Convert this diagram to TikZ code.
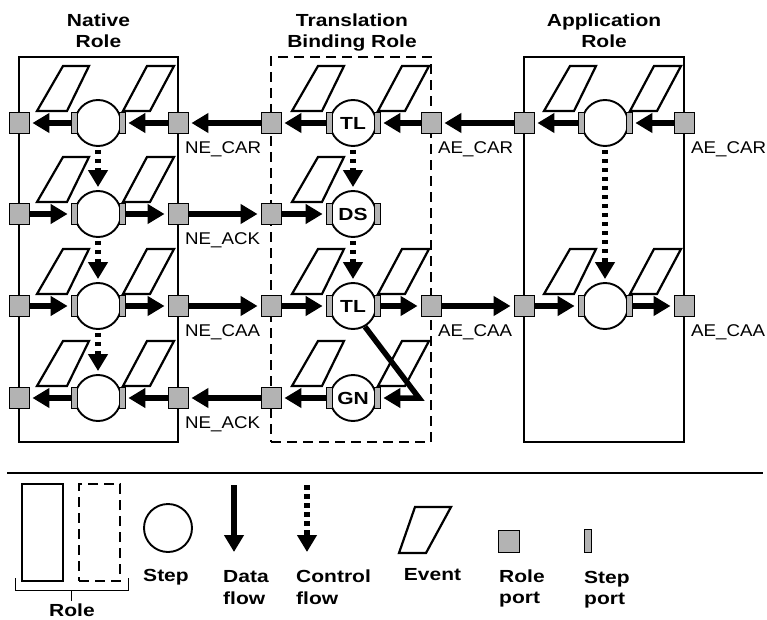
\documentclass[tikz,border=0pt]{standalone}
\usepackage{fontspec}
\setmainfont{Liberation Sans}
\newfontfamily\lbfont[FakeStretch=1.1]{Liberation Sans}
\newfontfamily\bdfont[FakeStretch=1.2]{Liberation Sans}
\usetikzlibrary{arrows.meta}
\definecolor{portgray}{RGB}{179,179,179}
\tikzset{
 stepc/.style={circle, draw, line width=1.9pt, minimum size=46pt, inner sep=0pt, fill=white, font=\bdfont\bfseries\fontsize{17.5}{20}\selectfont},
 sport/.style={rectangle, draw, fill=portgray, line width=0.9pt, minimum width=6pt, minimum height=21pt, inner sep=0pt},
 rport/.style={rectangle, draw, fill=portgray, line width=0.9pt, minimum width=20pt, minimum height=21pt, inner sep=0pt},
 event/.style={draw, line width=2.2pt, fill=white, line join=miter},
 dataflow/.style={line width=5.5pt, -{Triangle[length=17pt,width=19pt]}, shorten >=3pt},
 ctrlflow/.style={line width=5.5pt, dash pattern=on 4.5pt off 4.5pt, -{Triangle[length=17pt,width=19pt]}, shorten >=3pt, shorten <=3pt},
 rolebox/.style={draw, line width=2.2pt, inner sep=0pt},
 dashbox/.style={rolebox, dash pattern=on 10pt off 6pt},
 lab/.style={font=\lbfont\fontsize{17}{20}\selectfont, inner sep=0pt, anchor=west},
 ttl/.style={font=\bdfont\bfseries\fontsize{17.5}{20}\selectfont, inner sep=0pt, anchor=base},
 ttlw/.style={ttl, anchor=base west},
}
\newcommand{\stp}[4]{\node[stepc] (#1) at (#2,#3) {#4};
  \node[sport] (#1-l) at (#1.west) {};
  \node[sport] (#1-r) at (#1.east) {};}
\newcommand{\evl}[2]{\draw[event] ({#1-61},{#2-12}) -- ++(30,0) -- ++(22,-45) -- ++(-26,0) -- cycle;}
\newcommand{\evr}[2]{\draw[event] ({#1+25},{#2-12}) -- ++(27,0) -- ++(24,-45) -- ++(-27,0) -- cycle;}
\begin{document}
\begin{tikzpicture}[x=1pt,y=-1pt]
\useasboundingbox (0,0) rectangle (767,620);
% titles
\node[ttl] at (98.5,27) {Native};
\node[ttl] at (98.5,48) {Role};
\node[ttl] at (352,27) {Translation};
\node[ttl] at (352,48) {Binding Role};
\node[ttl] at (604,27) {Application};
\node[ttl] at (604,48) {Role};
% role boxes
\node[rolebox, minimum width=159pt, minimum height=385pt] (native) at (98.5,249.5) {};
\node[dashbox, minimum width=160pt, minimum height=385pt] (tbr) at (351,249.5) {};
\node[rolebox, minimum width=160pt, minimum height=385pt] (app) at (604,249.5) {};
% events
\foreach \yy in {123,214,306,398} {\evl{98}{\yy}\evr{98}{\yy}}
\evl{353}{123}\evr{353}{123}
\evl{353}{214}
\evl{353}{306}\evr{353}{306}
\evl{353}{398}\evr{353}{398}
\evl{605}{123}\evr{605}{123}
\evl{605}{306}\evr{605}{306}
% steps
\stp{n1}{98}{123}{}
\stp{n2}{98}{214}{}
\stp{n3}{98}{306}{}
\stp{n4}{98}{398}{}
\stp{t1}{353}{123}{TL}
\stp{t2}{353}{214}{DS}
\stp{t3}{353}{306}{TL}
\stp{t4}{353}{398}{GN}
\stp{a1}{605}{123}{}
\stp{a3}{605}{306}{}
% role ports
\node[rport] (n1L) at (19,123) {};
\node[rport] (n1R) at (178,123) {};
\node[rport] (n2L) at (19,214) {};
\node[rport] (n2R) at (178,214) {};
\node[rport] (n3L) at (19,306) {};
\node[rport] (n3R) at (178,306) {};
\node[rport] (n4L) at (19,398) {};
\node[rport] (n4R) at (178,398) {};
\node[rport] (t1L) at (271,123) {};
\node[rport] (t1R) at (431,123) {};
\node[rport] (t2L) at (271,214) {};
\node[rport] (t3L) at (271,306) {};
\node[rport] (t3R) at (431,306) {};
\node[rport] (t4L) at (271,398) {};
\node[rport] (a1L) at (524,123) {};
\node[rport] (a1R) at (684,123) {};
\node[rport] (a3L) at (524,306) {};
\node[rport] (a3R) at (684,306) {};
% data flows inside native
\draw[dataflow] (n1R.west) -- (n1-r.east);
\draw[dataflow] (n1-l.west) -- (n1L.east);
\draw[dataflow] (n2L.east) -- (n2-l.west);
\draw[dataflow] (n2-r.east) -- (n2R.west);
\draw[dataflow] (n3L.east) -- (n3-l.west);
\draw[dataflow] (n3-r.east) -- (n3R.west);
\draw[dataflow] (n4R.west) -- (n4-r.east);
\draw[dataflow] (n4-l.west) -- (n4L.east);
% data flows inside TBR
\draw[dataflow] (t1R.west) -- (t1-r.east);
\draw[dataflow] (t1-l.west) -- (t1L.east);
\draw[dataflow] (t2L.east) -- (t2-l.west);
\draw[dataflow] (t3L.east) -- (t3-l.west);
\draw[dataflow] (t3-r.east) -- (t3R.west);
\draw[dataflow] (t4-l.west) -- (t4L.east);
\coordinate (bend) at (419,398);
\draw[dataflow, line join=miter] (t3.-60) -- (bend) -- (t4-r.east);
% data flows inside app
\draw[dataflow] (a1R.west) -- (a1-r.east);
\draw[dataflow] (a1-l.west) -- (a1L.east);
\draw[dataflow] (a3L.east) -- (a3-l.west);
\draw[dataflow] (a3-r.east) -- (a3R.west);
% between roles
\draw[dataflow] (t1L.west) -- (n1R.east);
\draw[dataflow] (a1L.west) -- (t1R.east);
\draw[dataflow] (n2R.east) -- (t2L.west);
\draw[dataflow] (n3R.east) -- (t3L.west);
\draw[dataflow] (t3R.east) -- (a3L.west);
\draw[dataflow] (t4L.west) -- (n4R.east);
% control flows
\draw[ctrlflow] (n1.south) -- (n2.north);
\draw[ctrlflow] (n2.south) -- (n3.north);
\draw[ctrlflow] (n3.south) -- (n4.north);
\draw[ctrlflow] (t1.south) -- (t2.north);
\draw[ctrlflow] (t2.south) -- (t3.north);
\draw[ctrlflow] (a1.south) -- (a3.north);
% labels
\node[lab] at (185,149) {NE\_CAR};
\node[lab] at (185,240) {NE\_ACK};
\node[lab] at (185,332) {NE\_CAA};
\node[lab] at (185,424) {NE\_ACK};
\node[lab] at (438,149) {AE\_CAR};
\node[lab] at (438,332) {AE\_CAA};
\node[lab] at (691,149) {AE\_CAR};
\node[lab] at (691,332) {AE\_CAA};
% legend
\draw[line width=1.2pt] (7,473) -- (763,473);
\node[rolebox, minimum width=41pt, minimum height=97pt] (lgr1) at (42.5,532.5) {};
\node[dashbox, minimum width=41pt, minimum height=97pt] (lgr2) at (99.5,532.5) {};
\draw[line width=1pt] (15,578) -- (15,590) -- (128,590) -- (128,578);
\draw[line width=1pt] (71,590) -- (71,601);
\node[ttl] at (72,616) {Role};
\node[stepc, minimum size=48pt] (lgs) at (168,528) {};
\node[ttl] at (166,581) {Step};
\coordinate (lgd1) at (234,485);
\coordinate (lgd2) at (234,552);
\draw[dataflow, shorten >=0pt] (lgd1) -- (lgd2);
\node[ttlw] at (223,582) {Data};
\node[ttlw] at (223,604) {flow};
\coordinate (lgc1) at (307,485);
\coordinate (lgc2) at (307,552);
\draw[ctrlflow, shorten >=0pt, shorten <=0pt] (lgc1) -- (lgc2);
\node[ttlw] at (296,582) {Control};
\node[ttlw] at (296,604) {flow};
\draw[event] (399,553) -- (426,553) -- (451,507) -- (415,507) -- cycle;
\node[ttl] at (432.5,580) {Event};
\node[rport, minimum width=21pt, minimum height=22pt] (lgrp) at (508.5,541) {};
\node[ttlw] at (499,582) {Role};
\node[ttlw] at (499,603) {port};
\node[sport, minimum width=7pt, minimum height=23pt] (lgsp) at (587.5,540.5) {};
\node[ttlw] at (584,583) {Step};
\node[ttlw] at (584,604) {port};
\end{tikzpicture}
\end{document}
